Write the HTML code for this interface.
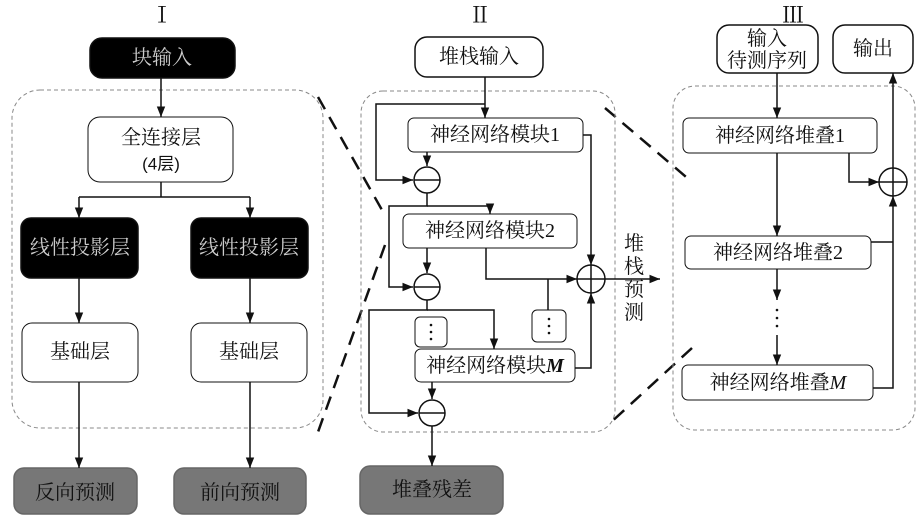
<!DOCTYPE html>
<html><head><meta charset="utf-8"><style>
html,body{margin:0;padding:0;background:#fff;width:921px;height:516px;overflow:hidden}
svg{display:block}
text{font-family:"Liberation Serif","Noto Serif CJK SC",serif;font-size:20px;fill:#111;text-anchor:middle;dominant-baseline:central}
</style></head><body>
<svg width="921" height="516" viewBox="0 0 921 516">
<defs><marker id="a" viewBox="0 0 10 10" refX="10" refY="5" markerWidth="7" markerHeight="7" orient="auto"><path d="M0,1L10,5L0,9z" fill="#111"/></marker></defs>
<g fill="none" stroke="#111" stroke-width="1.5">
<rect x="12" y="90" width="311" height="338" rx="28" stroke="#888" stroke-width="1" stroke-dasharray="4,3"/>
<rect x="90" y="38" width="145" height="40" rx="12" fill="#000"/>
<rect x="88" y="117" width="145" height="65" rx="12" fill="#fff" stroke-width="1"/>
<rect x="21" y="218" width="117" height="60" rx="10" fill="#000"/>
<rect x="191" y="218" width="117" height="60" rx="10" fill="#000"/>
<rect x="22" y="323" width="116" height="59" rx="10" fill="#fff" stroke-width="1"/>
<rect x="191" y="323" width="116" height="59" rx="10" fill="#fff" stroke-width="1"/>
<rect x="14" y="468" width="123" height="46" rx="10" fill="#777" stroke="#666"/>
<rect x="174" y="468" width="132" height="46" rx="10" fill="#777" stroke="#666"/>
<path d="M161 78V117" marker-end="url(#a)"/>
<path d="M161 182V197M79 197H250" />
<path d="M79 197V218" marker-end="url(#a)"/><path d="M250 197V218" marker-end="url(#a)"/>
<path d="M79 278V323" marker-end="url(#a)"/><path d="M250 278V323" marker-end="url(#a)"/>
<path d="M79 382V468" marker-end="url(#a)"/><path d="M250 382V468" marker-end="url(#a)"/>
<path d="M318 97L382 210M385 245L318 432M605 108L692 182M692 348L608 425" stroke-width="2.5" stroke-dasharray="14,9"/>
<rect x="361" y="91" width="254" height="341" rx="22" stroke="#888" stroke-width="1" stroke-dasharray="4,3"/>
<rect x="415" y="37" width="128" height="40" rx="12" fill="#fff"/>
<rect x="408" y="118" width="175" height="34" rx="6" fill="#fff" stroke-width="1"/>
<rect x="403" y="214" width="174" height="34" rx="6" fill="#fff" stroke-width="1"/>
<rect x="415" y="349" width="160" height="33" rx="6" fill="#fff" stroke-width="1"/>
<rect x="415" y="317" width="32" height="30" rx="5" fill="#fff" stroke-width="1"/>
<rect x="532" y="310" width="34" height="32" rx="5" fill="#fff" stroke-width="1"/>
<rect x="360" y="466" width="143" height="48" rx="10" fill="#777" stroke="#666"/>
<path d="M485 77V118" marker-end="url(#a)"/>
<path d="M485 104H376V180H413" marker-end="url(#a)"/>
<path d="M427 152V166" marker-end="url(#a)"/>
<circle cx="427" cy="180" r="13" fill="#fff"/><path d="M414 180H440"/>
<path d="M427 193V206H389V287H413" marker-end="url(#a)"/>
<path d="M427 206H490V214" marker-end="url(#a)"/>
<path d="M427 248V273" marker-end="url(#a)"/>
<circle cx="427" cy="287" r="13" fill="#fff"/><path d="M414 287H440"/>
<path d="M427 300V310H369V413H418" marker-end="url(#a)"/>
<path d="M427 310H494V349" marker-end="url(#a)"/>
<path d="M432 382V399" marker-end="url(#a)"/>
<circle cx="432" cy="413" r="13" fill="#fff"/><path d="M419 413H445"/>
<path d="M432 426V466" marker-end="url(#a)"/>
<path d="M583 135H591V265" marker-end="url(#a)"/>
<path d="M486 248V279H577" marker-end="url(#a)"/>
<path d="M548 310V279"/>
<path d="M575 368H591V293" marker-end="url(#a)"/>
<circle cx="591" cy="279" r="14" fill="#fff"/><path d="M577 279H605M591 265V293"/>
<path d="M605 279H660" marker-end="url(#a)"/>
<rect x="673" y="86" width="242" height="344" rx="22" stroke="#888" stroke-width="1" stroke-dasharray="4,3"/>
<rect x="717" y="25" width="101" height="48" rx="12" fill="#fff"/>
<rect x="833" y="25" width="80" height="48" rx="12" fill="#fff"/>
<rect x="683" y="118" width="194" height="35" rx="6" fill="#fff" stroke-width="1"/>
<rect x="685" y="236" width="186" height="33" rx="6" fill="#fff" stroke-width="1"/>
<rect x="682" y="365" width="191" height="35" rx="6" fill="#fff" stroke-width="1"/>
<path d="M777 73V118" marker-end="url(#a)"/>
<path d="M777 153V236" marker-end="url(#a)"/>
<path d="M777 269V300" marker-end="url(#a)"/>
<path d="M777 335V365" marker-end="url(#a)"/>
<path d="M849 153V182H879" marker-end="url(#a)"/>
<path d="M871 242H893M873 388H893V196" marker-end="url(#a)"/>
<circle cx="893" cy="182" r="14" fill="#fff"/><path d="M879 182H907M893 168V196"/>
<path d="M893 168V73" marker-end="url(#a)"/>
</g>
<g fill="#111"><circle cx="431" cy="325" r="1.3"/><circle cx="431" cy="332" r="1.3"/><circle cx="431" cy="339" r="1.3"/>
<circle cx="549" cy="319" r="1.3"/><circle cx="549" cy="326" r="1.3"/><circle cx="549" cy="333" r="1.3"/>
<circle cx="777" cy="310" r="1.3"/><circle cx="777" cy="318" r="1.3"/><circle cx="777" cy="326" r="1.3"/></g>
<text x="162" y="15" style="font-size:22px">Ⅰ</text><text x="480" y="15" style="font-size:22px">Ⅱ</text><text x="793" y="15" style="font-size:22px">Ⅲ</text>
<text x="162" y="58" style="fill:#ccc">块输入</text>
<text x="161" y="138">全连接层</text><text x="161" y="164" style="font-family:'Liberation Sans','Noto Sans CJK SC',sans-serif;font-size:17px">(4层)</text>
<text x="80" y="248" style="fill:#ccc">线性投影层</text><text x="249" y="248" style="fill:#ccc">线性投影层</text>
<text x="80" y="352">基础层</text><text x="249" y="352">基础层</text>
<text x="75" y="493">反向预测</text><text x="240" y="493">前向预测</text>
<text x="479" y="57">堆栈输入</text>
<text x="495" y="135">神经网络模块1</text><text x="490" y="231">神经网络模块2</text><text x="495" y="366">神经网络模块<tspan font-style="italic" font-weight="bold">M</tspan></text>
<text x="432" y="490">堆叠残差</text>
<text x="634" y="244">堆</text><text x="634" y="267">栈</text><text x="634" y="290">预</text><text x="634" y="313">测</text>
<text x="767" y="39">输入</text><text x="767" y="61">待测序列</text><text x="873" y="49">输出</text>
<text x="780" y="136">神经网络堆叠1</text><text x="778" y="253">神经网络堆叠2</text><text x="778" y="383">神经网络堆叠<tspan font-style="italic">M</tspan></text>
</svg>
</body></html>
